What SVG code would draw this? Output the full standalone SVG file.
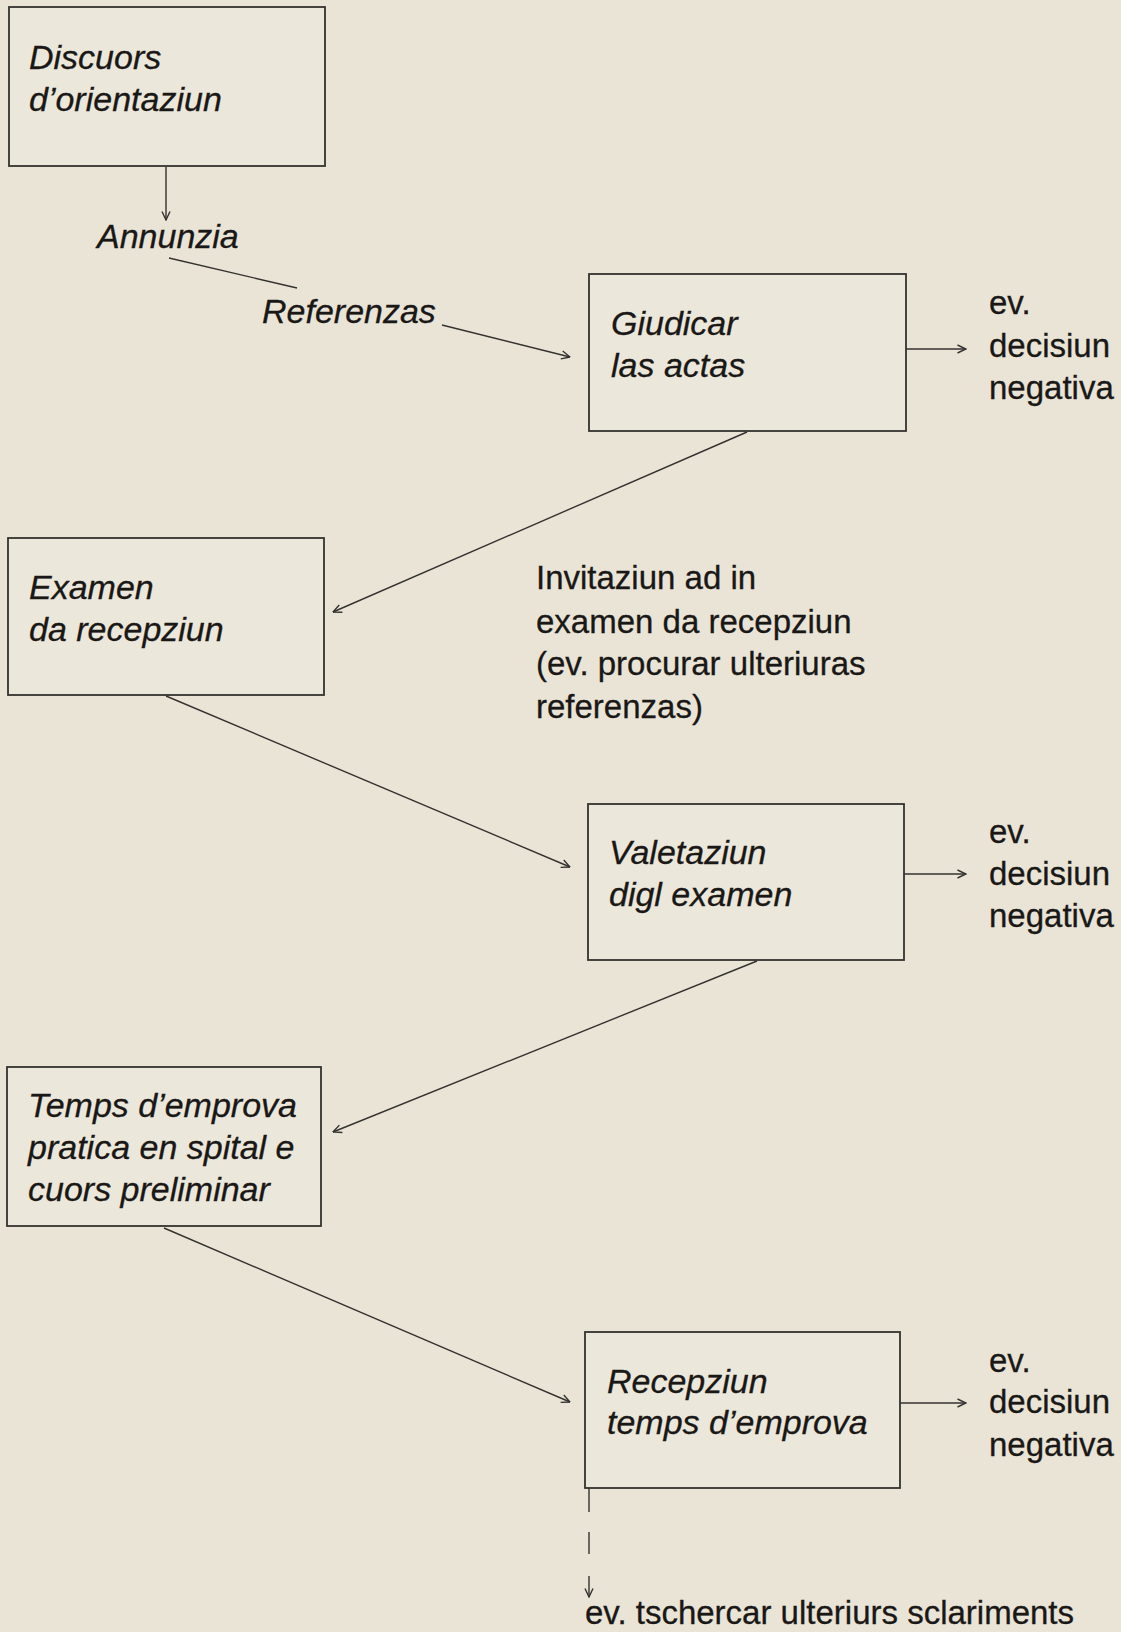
<svg xmlns="http://www.w3.org/2000/svg" width="1121" height="1632" viewBox="0 0 1121 1632">
<style>
.bg{fill:#e9e4d6}
.box{fill:#ebe7da;stroke:#34322f;stroke-width:1.8}
.lbl{font-family:"Liberation Sans",Arial,sans-serif;font-style:italic;font-size:34px;fill:#1a1816;stroke:#1a1816;stroke-width:0.3}
.txt{font-family:"Liberation Sans",Arial,sans-serif;font-size:33px;fill:#1a1816;stroke:#1a1816;stroke-width:0.3}
.con{fill:none;stroke:#34322f;stroke-width:1.4}
</style>
<defs>
<marker id="ah" viewBox="0 0 10 10" refX="9.5" refY="5" markerWidth="10" markerHeight="10" markerUnits="userSpaceOnUse" orient="auto">
<path d="M1,1 L9.5,5 L1,9" fill="none" stroke="#34322f" stroke-width="1.4"/>
</marker>
</defs>
<rect class="bg" x="0" y="0" width="1121" height="1632"/>

<g id="connectors">
<line class="con" x1="166" y1="167" x2="166" y2="220" marker-end="url(#ah)"/>
<line class="con" x1="169" y1="258" x2="297" y2="288"/>
<line class="con" x1="442" y1="325" x2="570" y2="357" marker-end="url(#ah)"/>
<line class="con" x1="906" y1="349" x2="966" y2="349" marker-end="url(#ah)"/>
<line class="con" x1="747" y1="432" x2="333" y2="612" marker-end="url(#ah)"/>
<line class="con" x1="166" y1="696" x2="570" y2="867" marker-end="url(#ah)"/>
<line class="con" x1="904" y1="874" x2="966" y2="874" marker-end="url(#ah)"/>
<line class="con" x1="757" y1="961" x2="333" y2="1132" marker-end="url(#ah)"/>
<line class="con" x1="164" y1="1228" x2="570" y2="1402" marker-end="url(#ah)"/>
<line class="con" x1="900" y1="1403" x2="966" y2="1403" marker-end="url(#ah)"/>
<line class="con" x1="589" y1="1488" x2="589" y2="1512"/>
<line class="con" x1="589" y1="1532" x2="589" y2="1554"/>
<line class="con" x1="589" y1="1576" x2="589" y2="1597" marker-end="url(#ah)"/>
</g>

<g id="n-discuors">
<rect class="box" x="9" y="7" width="316" height="159"/>
<text class="lbl" x="29" y="69">Discuors</text>
<text class="lbl" x="29" y="111">d’orientaziun</text>
</g>

<g id="n-annunzia">
<text class="lbl" x="97" y="248">Annunzia</text>
</g>

<g id="n-referenzas">
<text class="lbl" x="262" y="323">Referenzas</text>
</g>

<g id="n-giudicar">
<rect class="box" x="589" y="274" width="317" height="157"/>
<text class="lbl" x="611" y="335">Giudicar</text>
<text class="lbl" x="611" y="377">las actas</text>
</g>

<g id="n-neg1">
<text class="txt" x="989" y="314">ev.</text>
<text class="txt" x="989" y="357">decisiun</text>
<text class="txt" x="989" y="399">negativa</text>
</g>

<g id="n-examen">
<rect class="box" x="8" y="538" width="316" height="157"/>
<text class="lbl" x="29" y="599">Examen</text>
<text class="lbl" x="29" y="641">da recepziun</text>
</g>

<g id="n-invitaziun">
<text class="txt" x="536" y="589">Invitaziun ad in</text>
<text class="txt" x="536" y="633">examen da recepziun</text>
<text class="txt" x="536" y="675">(ev. procurar ulteriuras</text>
<text class="txt" x="536" y="718">referenzas)</text>
</g>

<g id="n-valetaziun">
<rect class="box" x="588" y="804" width="316" height="156"/>
<text class="lbl" x="609" y="864">Valetaziun</text>
<text class="lbl" x="609" y="906">digl examen</text>
</g>

<g id="n-neg2">
<text class="txt" x="989" y="843">ev.</text>
<text class="txt" x="989" y="885">decisiun</text>
<text class="txt" x="989" y="927">negativa</text>
</g>

<g id="n-temps">
<rect class="box" x="7" y="1067" width="314" height="159"/>
<text class="lbl" x="28" y="1117">Temps d’emprova</text>
<text class="lbl" x="28" y="1159">pratica en spital e</text>
<text class="lbl" x="28" y="1201">cuors preliminar</text>
</g>

<g id="n-recepziun">
<rect class="box" x="585" y="1332" width="315" height="156"/>
<text class="lbl" x="607" y="1393">Recepziun</text>
<text class="lbl" x="607" y="1434">temps d’emprova</text>
</g>

<g id="n-neg3">
<text class="txt" x="989" y="1372">ev.</text>
<text class="txt" x="989" y="1413">decisiun</text>
<text class="txt" x="989" y="1456">negativa</text>
</g>

<g id="n-tschercar">
<text class="txt" x="585" y="1624">ev. tschercar ulteriurs sclariments</text>
</g>
</svg>
